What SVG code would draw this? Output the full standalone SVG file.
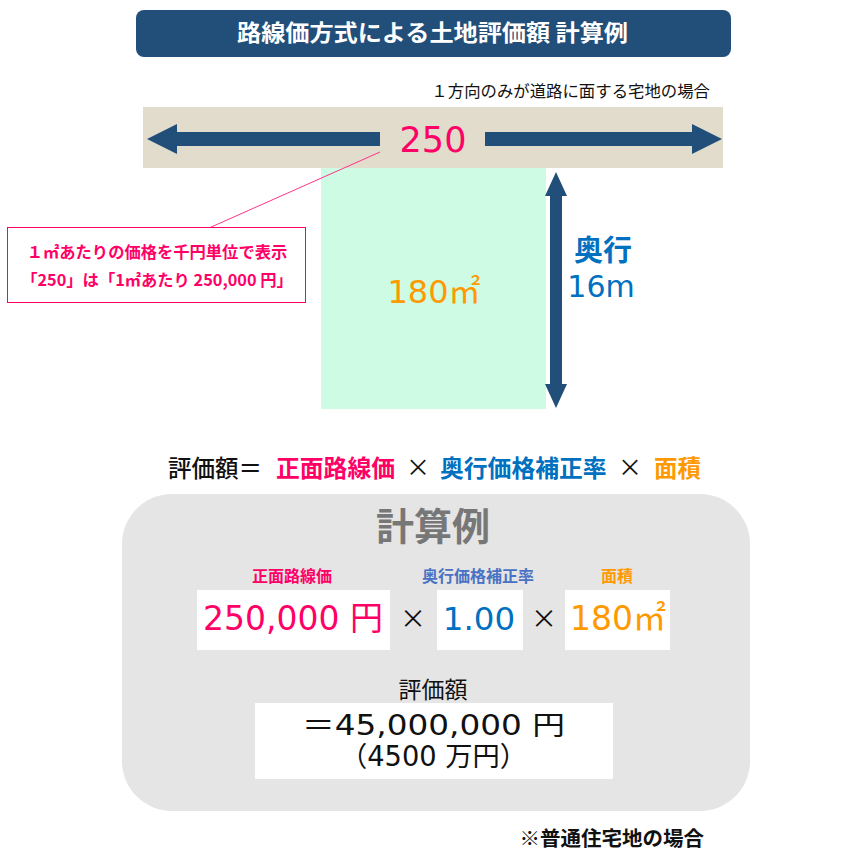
<svg xmlns="http://www.w3.org/2000/svg" width="855" height="854" viewBox="0 0 855 854">
<style>
text{font-family:"Noto Sans CJK JP","Noto Sans",sans-serif;}
.num{font-family:"DejaVu Sans","Noto Sans CJK JP",sans-serif;}
.pk{fill:#ff0066;}
.bl{fill:#0070c0;}
.or{fill:#ff9900;}
.bk{fill:#111;}
.c{text-anchor:middle;}
.wb{fill:#ffffff;}
</style>
<rect width="855" height="854" fill="#ffffff"/>
<g id="title">
<rect x="136" y="10" width="595" height="47" rx="8" fill="#224f7a"/>
<text x="432.5" y="41" class="c" font-size="22.5" font-weight="bold" fill="#ffffff" textLength="391" lengthAdjust="spacingAndGlyphs">路線価方式による土地評価額 計算例</text>
</g>
<g id="subtitle">
<text x="710" y="97" text-anchor="end" font-size="16.4" class="bk">１方向のみが道路に面する宅地の場合</text>
</g>
<g id="road">
<rect x="143" y="107" width="580" height="61" fill="#e1dccb"/>
<polygon points="147,139 177,124 177,132 380,132 380,146 177,146 177,154" fill="#224f7a"/>
<polygon points="722,139 692,124 692,132 485,132 485,146 692,146 692,154" fill="#224f7a"/>
<text x="433" y="152" class="c pk num" font-size="35">250</text>
</g>
<g id="lot">
<rect x="321" y="168" width="225" height="241" fill="#cdfbe3"/>
<text x="434" y="303" class="c or num" font-size="32">180㎡</text>
</g>
<g id="depth">
<polygon points="556,172 567,196 562,196 562,384 567,384 556,408 545,384 550,384 550,196 545,196" fill="#224f7a"/>
<text x="603" y="261" class="c bl" font-size="29" font-weight="bold">奥行</text>
<text x="601" y="297" class="c bl num" font-size="30">16m</text>
</g>
<g id="connectors">
<line x1="380" y1="152" x2="209" y2="228" stroke="#ff3388" stroke-width="1"/>
</g>
<g id="callout">
<rect x="7.5" y="227.5" width="298" height="75" fill="#ffffff" stroke="#ff0066" stroke-width="1"/>
<text x="157" y="258" class="c pk" font-size="16.3" font-weight="bold">１㎡あたりの価格を千円単位で表示</text>
<text x="157" y="286" class="c pk" font-size="16.3" font-weight="bold">「250」は「1㎡あたり 250,000 円」</text>
</g>
<g id="formula">
<text x="168" y="477" font-size="23.5" font-weight="500" class="bk">評価額＝</text>
<text x="276" y="477" font-size="23.8" font-weight="bold" class="pk">正面路線価</text>
<text x="418" y="476" class="c bk" font-size="24">×</text>
<text x="440" y="477" font-size="23.8" font-weight="bold" class="bl">奥行価格補正率</text>
<text x="630" y="476" class="c bk" font-size="24">×</text>
<text x="654" y="477" font-size="23.5" font-weight="bold" class="or">面積</text>
</g>
<g id="example">
<rect x="122" y="494" width="628" height="317" rx="50" fill="#e5e5e5"/>
<text x="433" y="540" class="c" font-size="38" font-weight="bold" fill="#777777">計算例</text>
<text x="292" y="582" class="c pk" font-size="16" font-weight="bold">正面路線価</text>
<text x="478" y="582" class="c" font-size="16" font-weight="bold" fill="#4a72c4">奥行価格補正率</text>
<text x="617" y="582" class="c or" font-size="16" font-weight="bold">面積</text>
<rect x="197" y="590" width="193" height="60" class="wb"/>
<rect x="437" y="590" width="86" height="60" class="wb"/>
<rect x="565" y="590" width="105" height="60" class="wb"/>
<text x="293" y="630" class="c pk num" font-size="33">250,000 円</text>
<text x="413" y="628" class="c bk" font-size="26">×</text>
<text x="479" y="630" class="c bl num" font-size="32.5">1.00</text>
<text x="544" y="628" class="c bk" font-size="26">×</text>
<text x="618" y="630" class="c or num" font-size="33">180㎡</text>
<text x="433" y="698" class="c bk" font-size="23">評価額</text>
<rect x="255" y="703" width="358" height="76" class="wb"/>
<text x="433.5" y="735" class="c bk num" font-size="27.5" textLength="263" lengthAdjust="spacingAndGlyphs">＝45,000,000 円</text>
<text x="433.5" y="766" class="c bk num" font-size="27.5" textLength="187" lengthAdjust="spacingAndGlyphs">（4500 万円）</text>
</g>
<g id="note">
<text x="704" y="846" text-anchor="end" font-size="20.5" font-weight="bold" class="bk">※普通住宅地の場合</text>
</g>
</svg>
